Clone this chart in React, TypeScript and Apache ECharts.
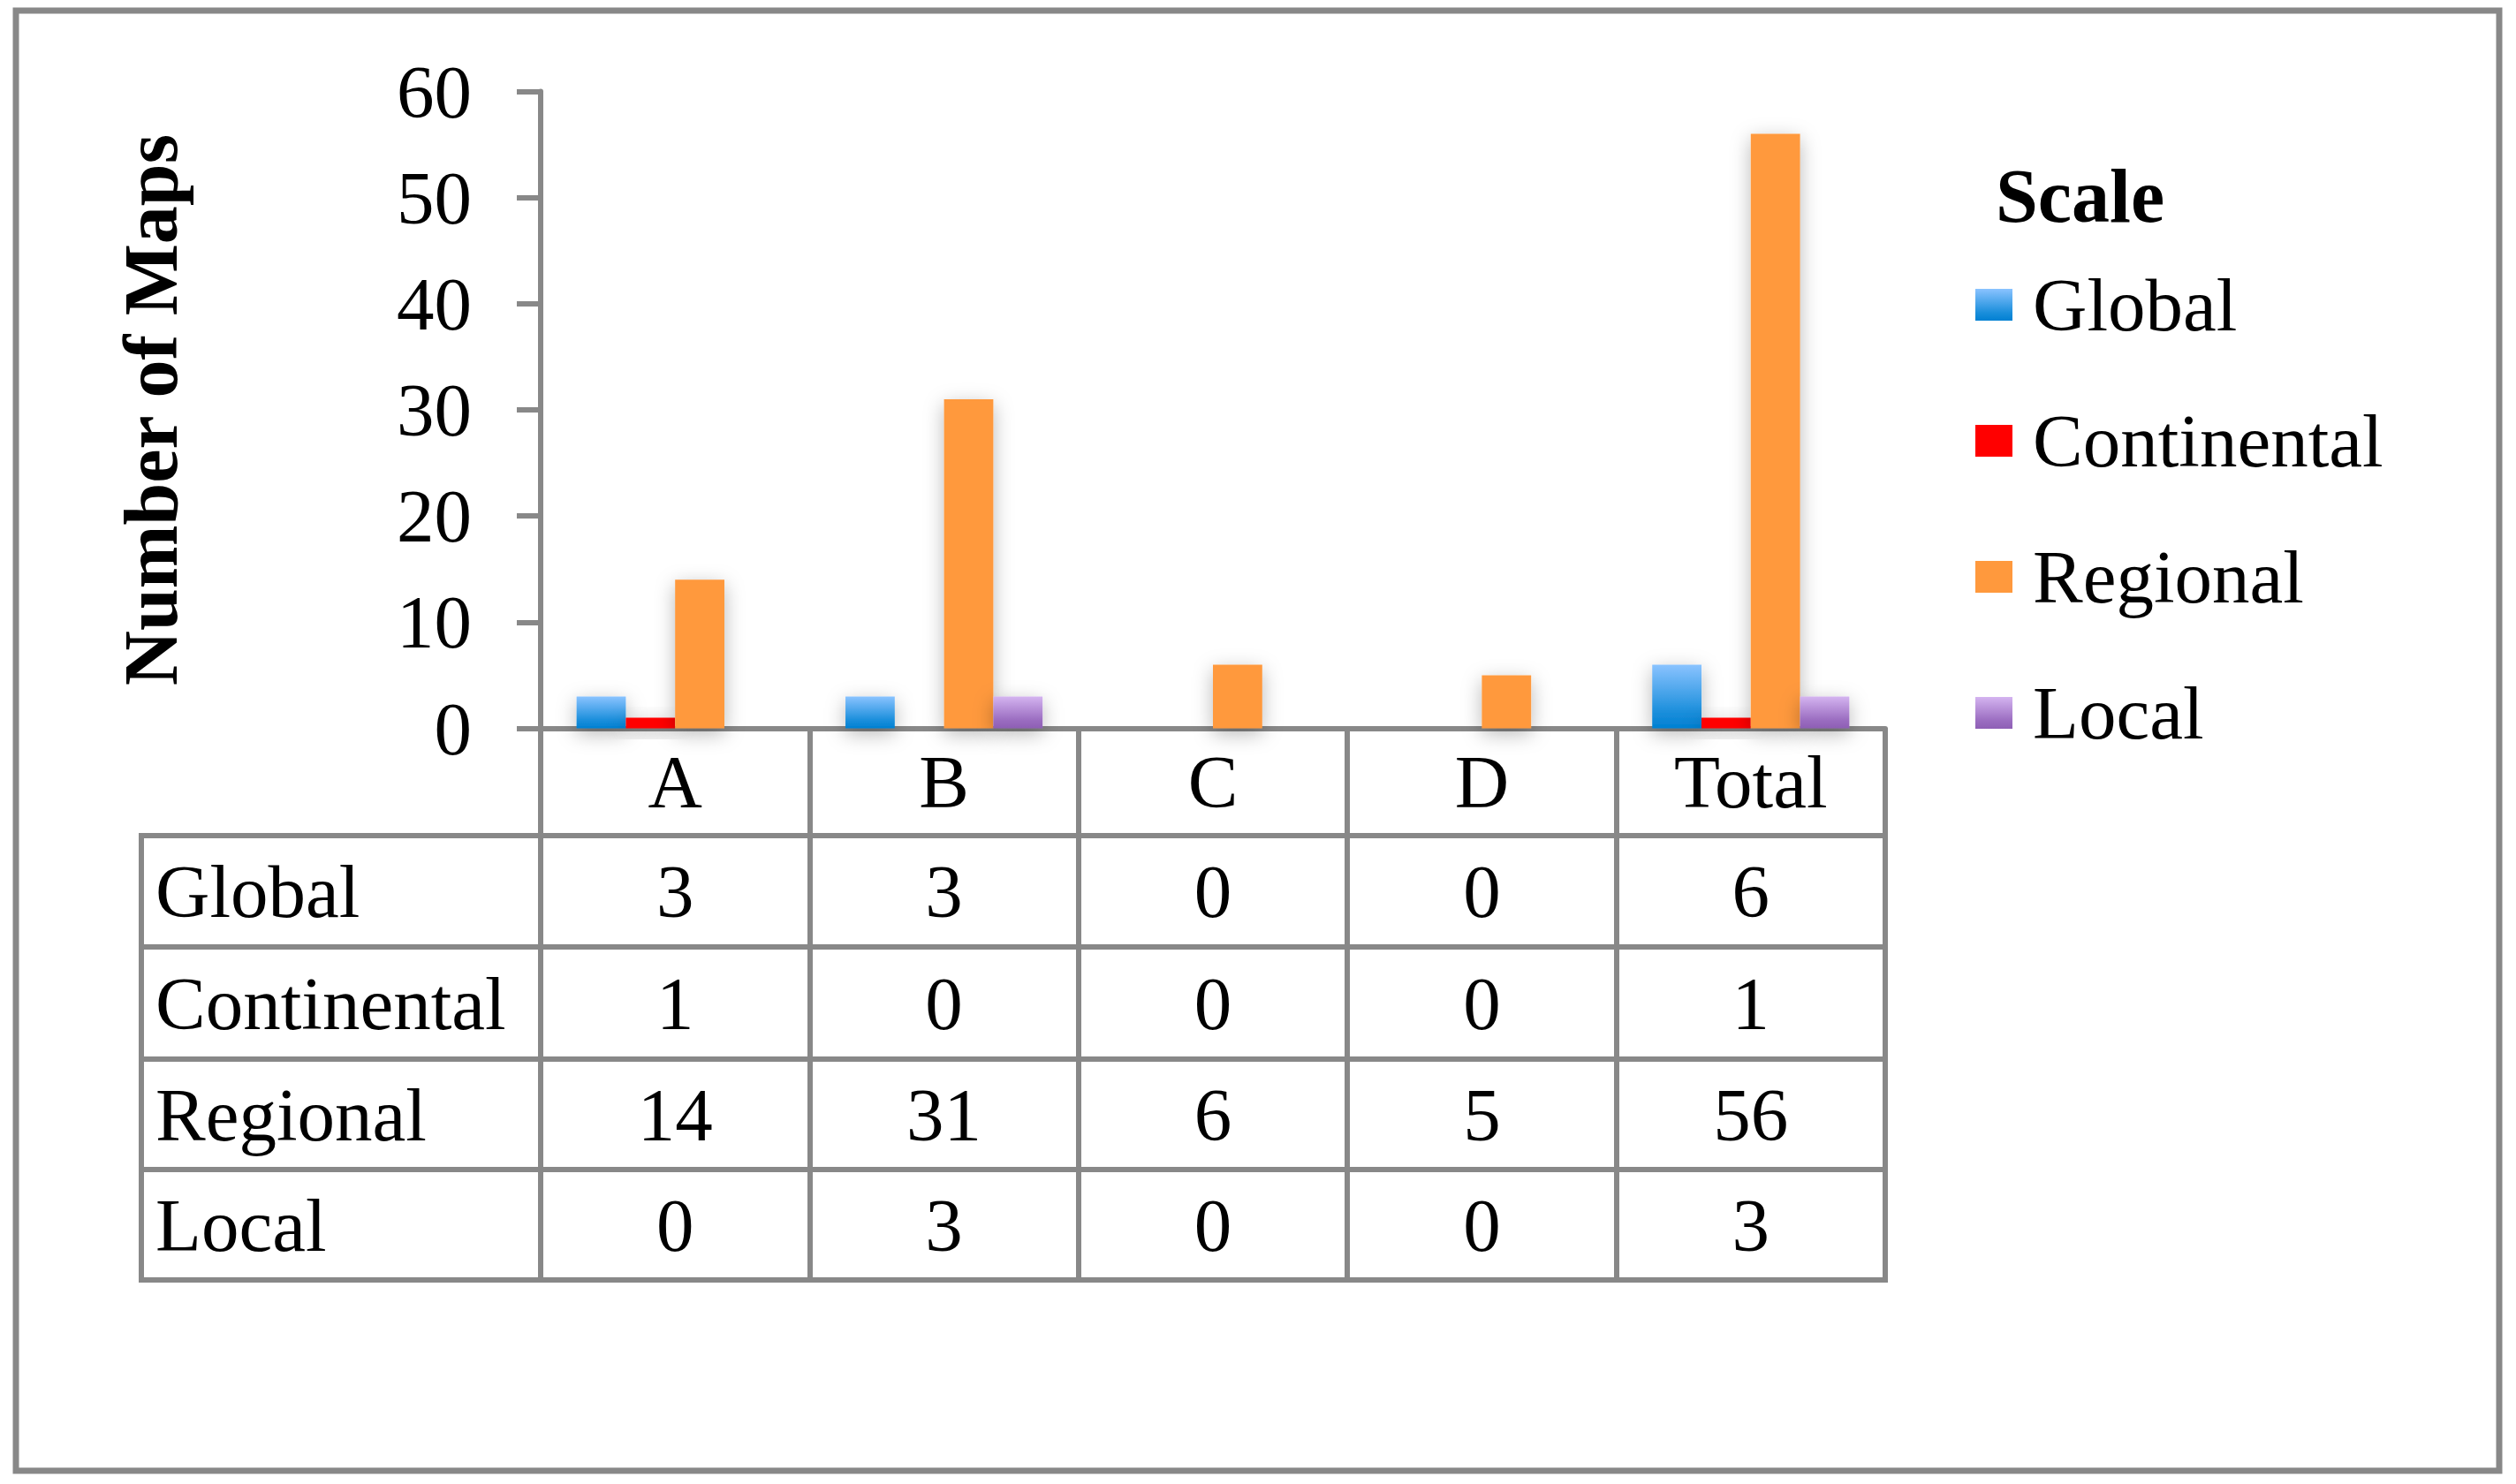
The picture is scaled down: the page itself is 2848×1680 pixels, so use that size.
import React, { useEffect, useRef } from "react";
import * as echarts from "echarts";

const categories = ["A", "B", "C", "D", "Total"];
const seriesNames = ["Global", "Continental", "Regional", "Local"];
const globalValues = [3, 3, 0, 0, 6];
const continentalValues = [1, 0, 0, 0, 1];
const regionalValues = [14, 31, 6, 5, 56];
const localValues = [0, 3, 0, 0, 3];
const yMin = 0;
const yMax = 60;
const yInterval = 10;
const legendTitle = "Scale";
const yAxisTitle = "Number of Maps";

const FONT = '"Liberation Serif", "Times New Roman", serif';
const GREY = "#888888";

// layout
const W = 2848;
const H = 1680;
const GRID_LEFT = 612;
const GRID_RIGHT_X = 2134;
const GRID_TOP = 103.5;
const GRID_BOTTOM_Y = 824.5;
const TABLE_LEFT = 160;
const ROW_LINES = [946, 1072, 1199, 1324, 1449];

export default function App() {
  const ref = useRef<HTMLDivElement>(null);

  useEffect(() => {
    if (!ref.current) return;
    const chart = echarts.init(ref.current, null, { renderer: "svg" });

    const allValues = [globalValues, continentalValues, regionalValues, localValues];
    const colors: any[] = [
      new echarts.graphic.LinearGradient(0, 0, 0, 1, [
        { offset: 0, color: "#8AC3FF" },
        { offset: 0.75, color: "#1A8EDB" },
        { offset: 1, color: "#0080D2" },
      ]),
      "#FF0000",
      "#FF993D",
      new echarts.graphic.LinearGradient(0, 0, 0, 1, [
        { offset: 0, color: "#D4B4F0" },
        { offset: 0.75, color: "#9A6CC0" },
        { offset: 1, color: "#8E5FB5" },
      ]),
    ];

    const catW = (GRID_RIGHT_X - GRID_LEFT) / categories.length;
    const graphics: any[] = [];

    // outer border
    graphics.push({
      type: "rect",
      shape: { x: 18, y: 12, width: 2811, height: 1653 },
      style: { fill: "none", stroke: GREY, lineWidth: 7 },
      z: 100,
    });

    // table horizontal lines
    ROW_LINES.forEach((y) => {
      graphics.push({
        type: "line",
        shape: { x1: TABLE_LEFT - 3, y1: y, x2: GRID_RIGHT_X + 3, y2: y },
        style: { stroke: GREY, lineWidth: 6 },
        z: 100,
      });
    });
    // table left vertical line
    graphics.push({
      type: "line",
      shape: { x1: TABLE_LEFT, y1: ROW_LINES[0] - 3, x2: TABLE_LEFT, y2: ROW_LINES[ROW_LINES.length - 1] + 3 },
      style: { stroke: GREY, lineWidth: 6 },
      z: 100,
    });

    // table texts
    allValues.forEach((vals, r) => {
      const cy = (ROW_LINES[r] + ROW_LINES[r + 1]) / 2;
      graphics.push({
        type: "text",
        x: TABLE_LEFT + 16,
        y: cy,
        style: {
          text: seriesNames[r],
          fontSize: 85,
          fontFamily: FONT,
          fill: "#000",
          align: "left",
          verticalAlign: "middle",
        },
        z: 100,
      });
      vals.forEach((v, c) => {
        graphics.push({
          type: "text",
          x: GRID_LEFT + catW * (c + 0.5),
          y: cy,
          style: {
            text: String(v),
            fontSize: 85,
            fontFamily: FONT,
            fill: "#000",
            align: "center",
            verticalAlign: "middle",
          },
          z: 100,
        });
      });
    });

    // legend title
    graphics.push({
      type: "text",
      x: 2259,
      y: 222,
      style: {
        text: legendTitle,
        fontSize: 86,
        fontWeight: "bold",
        fontFamily: FONT,
        fill: "#000",
        align: "left",
        verticalAlign: "middle",
      },
      z: 100,
    });

    chart.setOption({
      animation: false,
      backgroundColor: "#ffffff",
      grid: {
        left: GRID_LEFT,
        top: GRID_TOP,
        width: GRID_RIGHT_X - GRID_LEFT,
        height: GRID_BOTTOM_Y - GRID_TOP,
        containLabel: false,
      },
      legend: {
        orient: "vertical",
        left: 2231,
        top: 295,
        icon: "rect",
        itemWidth: 42,
        itemHeight: 36,
        itemGap: 64,
        data: seriesNames,
        itemStyle: { shadowBlur: 0, shadowColor: "transparent" },
        textStyle: {
          fontFamily: FONT,
          fontSize: 85,
          color: "#000",
          lineHeight: 90,
          padding: [0, 0, 0, 18],
        },
      },
      xAxis: {
        type: "category",
        data: categories,
        boundaryGap: true,
        axisLine: { show: true, lineStyle: { color: GREY, width: 6 } },
        axisTick: {
          show: true,
          length: ROW_LINES[ROW_LINES.length - 1] - GRID_BOTTOM_Y + 3,
          lineStyle: { color: GREY, width: 6 },
        },
        axisLabel: {
          fontFamily: FONT,
          fontSize: 85,
          color: "#000",
          margin: 60,
          verticalAlign: "middle",
        },
        splitLine: { show: false },
      },
      yAxis: {
        type: "value",
        min: yMin,
        max: yMax,
        interval: yInterval,
        name: yAxisTitle,
        nameLocation: "middle",
        nameGap: 398,
        nameRotate: 90,
        nameTextStyle: {
          fontFamily: FONT,
          fontSize: 86,
          fontWeight: "bold",
          color: "#000",
        },
        axisLine: { show: true, lineStyle: { color: GREY, width: 6 } },
        axisTick: { show: true, length: 27, lineStyle: { color: GREY, width: 6 } },
        axisLabel: {
          fontFamily: FONT,
          fontSize: 85,
          color: "#000",
          margin: 78,
        },
        splitLine: {
          show: true,
          lineStyle: {
            color: GREY,
            width: 6,
            shadowColor: "rgba(0,0,0,0.12)",
            shadowOffsetY: 5,
            shadowBlur: 1,
          },
        },
      },
      series: allValues.map((vals, i) => ({
        name: seriesNames[i],
        type: "bar",
        data: vals,
        barGap: "0%",
        barCategoryGap: "26.7%",
        itemStyle: {
          color: colors[i],
          shadowBlur: 22,
          shadowColor: "rgba(0,0,0,0.28)",
          shadowOffsetY: 6,
        },
        emphasis: { disabled: true },
      })),
      graphic: graphics,
    });

    return () => chart.dispose();
  }, []);

  return (
    <div
      ref={ref}
      style={{ position: "fixed", left: 0, top: 0, width: W, height: H, background: "#fff" }}
    />
  );
}
